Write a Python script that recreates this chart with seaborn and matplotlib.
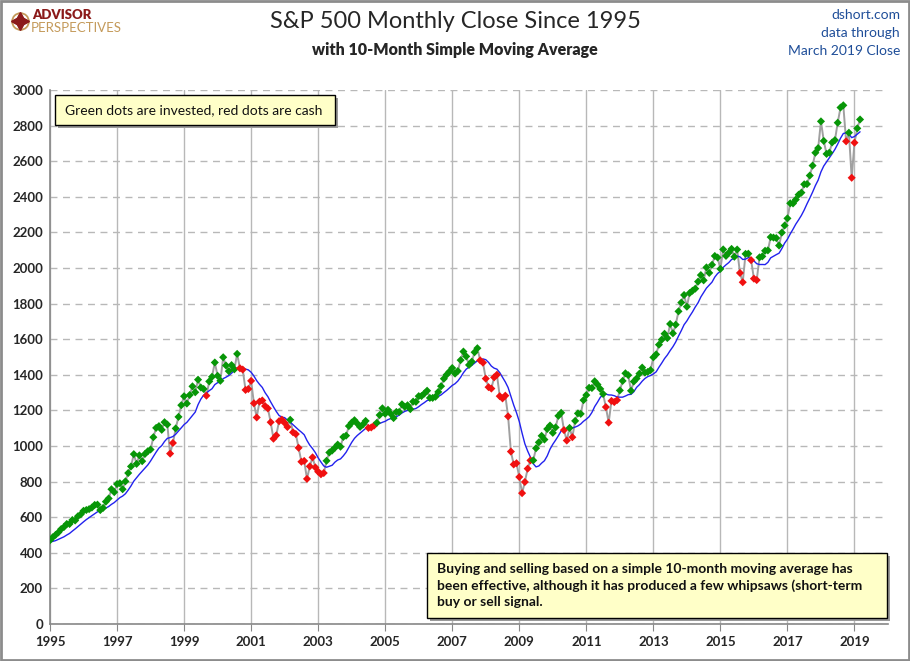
import matplotlib.pyplot as plt
import matplotlib.patches as mpatches
from matplotlib.lines import Line2D
import seaborn as sns
import pandas as pd
import numpy as np

# --------------------------- Data -------------------------------
# monthly closes, Mar 1994 - Mar 2019 (1994 only used to start the 10-month average)
close_1994 = [445.77, 450.91, 456.50, 444.27, 458.26, 475.49, 462.69, 472.35, 453.69, 459.27]
close_1995 = [470.42, 487.39, 500.71, 514.71, 533.40, 544.75, 562.06, 561.88, 584.41, 581.50, 605.37, 615.93]
close_1996 = [636.02, 640.43, 645.50, 654.17, 669.12, 670.63, 639.95, 651.99, 687.31, 705.27, 757.02, 740.74]
close_1997 = [786.16, 790.82, 757.12, 801.34, 848.28, 885.14, 954.29, 899.47, 947.28, 914.62, 955.40, 970.43]
close_1998 = [980.28, 1049.34, 1101.75, 1111.75, 1090.82, 1133.84, 1120.67, 957.28, 1017.01, 1098.67, 1163.63, 1229.23]
close_1999 = [1279.64, 1238.33, 1286.37, 1335.18, 1301.84, 1372.71, 1328.72, 1320.41, 1282.71, 1362.93, 1388.91, 1469.25]
close_2000 = [1394.46, 1366.42, 1498.58, 1452.43, 1420.60, 1454.60, 1430.83, 1517.68, 1436.51, 1429.40, 1314.95, 1320.28]
close_2001 = [1366.01, 1239.94, 1160.33, 1249.46, 1255.82, 1224.38, 1211.23, 1133.58, 1040.94, 1059.78, 1139.45, 1148.08]
close_2002 = [1130.20, 1106.73, 1147.39, 1076.92, 1067.14, 989.82, 911.62, 916.07, 815.28, 885.76, 936.31, 879.82]
close_2003 = [855.70, 841.15, 848.18, 916.92, 963.59, 974.50, 990.31, 1008.01, 995.97, 1050.71, 1058.20, 1111.92]
close_2004 = [1131.13, 1144.94, 1126.21, 1107.30, 1120.68, 1140.84, 1101.72, 1104.24, 1114.58, 1130.20, 1173.82, 1211.92]
close_2005 = [1181.27, 1203.60, 1180.59, 1156.85, 1191.50, 1191.33, 1234.18, 1220.33, 1228.81, 1207.01, 1249.48, 1248.29]
close_2006 = [1280.08, 1280.66, 1294.83, 1310.61, 1270.09, 1270.20, 1276.66, 1303.82, 1335.85, 1377.94, 1400.63, 1418.30]
close_2007 = [1438.24, 1406.82, 1420.86, 1482.37, 1530.62, 1503.35, 1455.27, 1473.99, 1526.75, 1549.38, 1481.14, 1468.36]
close_2008 = [1378.55, 1330.63, 1322.70, 1385.59, 1400.38, 1280.00, 1267.38, 1282.83, 1166.36, 968.75, 896.24, 903.25]
close_2009 = [825.88, 735.09, 797.87, 872.81, 919.14, 919.32, 987.48, 1020.62, 1057.08, 1036.19, 1095.63, 1115.10]
close_2010 = [1073.87, 1104.49, 1169.43, 1186.69, 1089.41, 1030.71, 1101.60, 1049.33, 1141.20, 1183.26, 1180.55, 1257.64]
close_2011 = [1286.12, 1327.22, 1325.83, 1363.61, 1345.20, 1320.64, 1292.28, 1218.89, 1131.42, 1253.30, 1246.96, 1257.60]
close_2012 = [1312.41, 1365.68, 1408.47, 1397.91, 1310.33, 1362.16, 1379.32, 1406.58, 1440.67, 1412.16, 1416.18, 1426.19]
close_2013 = [1498.11, 1514.68, 1569.19, 1597.57, 1630.74, 1606.28, 1685.73, 1632.97, 1681.55, 1756.54, 1805.81, 1848.36]
close_2014 = [1782.59, 1859.45, 1872.34, 1883.95, 1923.57, 1960.23, 1930.67, 2003.37, 1972.29, 2018.05, 2067.56, 2058.90]
close_2015 = [1994.99, 2104.50, 2067.89, 2085.51, 2107.39, 2063.11, 2103.84, 1972.18, 1920.03, 2079.36, 2080.41, 2043.94]
close_2016 = [1940.24, 1932.23, 2059.74, 2065.30, 2096.95, 2098.86, 2173.60, 2170.95, 2168.27, 2126.15, 2198.81, 2238.83]
close_2017 = [2278.87, 2363.64, 2362.72, 2384.20, 2411.80, 2423.41, 2470.30, 2471.65, 2519.36, 2575.26, 2647.58, 2673.61]
close_2018 = [2823.81, 2713.83, 2640.87, 2648.05, 2705.27, 2718.37, 2816.29, 2901.52, 2913.98, 2711.74, 2760.17, 2506.85]
close_2019 = [2704.10, 2784.49, 2834.40]

year_ticks = [1995, 1997, 1999, 2001, 2003, 2005, 2007, 2009, 2011, 2013, 2015, 2017, 2019]
value_ticks = [0, 200, 400, 600, 800, 1000, 1200, 1400, 1600, 1800, 2000, 2200, 2400, 2600, 2800, 3000]

closes = (close_1994 + close_1995 + close_1996 + close_1997 + close_1998 + close_1999 + close_2000
          + close_2001 + close_2002 + close_2003 + close_2004 + close_2005 + close_2006 + close_2007
          + close_2008 + close_2009 + close_2010 + close_2011 + close_2012 + close_2013 + close_2014
          + close_2015 + close_2016 + close_2017 + close_2018 + close_2019)

dates = pd.date_range("1994-03-01", periods=len(closes), freq="MS")
df = pd.DataFrame({"date": dates, "close": closes})
df["sma"] = df["close"].rolling(10).mean()
df = df[df["date"] >= "1995-01-01"].copy()
df["x"] = df["date"].dt.year + (df["date"].dt.month - 1) / 12
df["signal"] = np.where(df["close"] > df["sma"], "invested", "cash")

# --------------------------- Plot -------------------------------
sns.set_style("white")
plt.rcParams["font.family"] = ["Lato", "DejaVu Sans"]

fig = plt.figure(figsize=(9.1, 6.61), dpi=100)
ax = fig.add_axes([50 / 910, 1 - 624 / 661, 838 / 910, 534 / 661])

sns.lineplot(data=df, x="x", y="close", color="#a0a0a0", lw=1.4, ax=ax, zorder=2)
sns.lineplot(data=df, x="x", y="sma", color="#2222ee", lw=1.0, ax=ax, zorder=3)
sns.scatterplot(data=df, x="x", y="close", hue="signal",
                palette={"invested": "#079607", "cash": "#f01010"},
                marker="D", s=17, edgecolor="none", legend=False, ax=ax, zorder=4)

ax.set_xlim(1995, 2020)
ax.set_ylim(0, 3000)
ax.set_xticks(year_ticks)
ax.set_yticks(value_ticks)
ax.set_xticklabels([str(y) for y in year_ticks], fontweight="bold", fontsize=9.5)
ax.set_yticklabels([str(v) for v in value_ticks], fontweight="bold", fontsize=9.5)
ax.set_xlabel("")
ax.set_ylabel("")
ax.xaxis.grid(True, color="#b8b8b8", lw=1.0)
ax.yaxis.grid(True, color="#b8b8b8", lw=1.0, ls=(0, (5, 4)))
ax.tick_params(axis="x", direction="out", length=5, color="#888888", bottom=True, pad=4)
ax.tick_params(axis="y", length=0, pad=5)
for side in ["top", "right"]:
    ax.spines[side].set_visible(False)
for side in ["left", "bottom"]:
    ax.spines[side].set_color("#888888")
    ax.spines[side].set_linewidth(1.2)

# titles
fig.text(0.5, 1 - 22 / 661, "S&P 500 Monthly Close Since 1995", ha="center", va="center", fontsize=17)
fig.text(0.5, 1 - 50 / 661, "with 10-Month Simple Moving Average", ha="center", va="center",
         fontsize=11.5, fontweight="heavy")
for i, line in enumerate(["dshort.com", "data through", "March 2019 Close"]):
    fig.text(900 / 910, 1 - (15 + 18 * i) / 661, line, ha="right", va="center", fontsize=10,
             color="#1f4e99")

# logo
fig.add_artist(Line2D([20 / 910], [1 - 21 / 661], marker="o", ms=12, mfc="none", mec="#c49a5a",
                      mew=1.3, transform=fig.transFigure))
fig.add_artist(Line2D([20 / 910], [1 - 21 / 661], marker=(4, 1, 0), ms=13, color="#8b1a1a",
                      transform=fig.transFigure))
fig.text(32 / 910, 1 - 15 / 661, "ADVISOR", ha="left", va="center", fontsize=9.5,
         fontweight="heavy", color="#8b1a1a")
fig.text(31 / 910, 1 - 28 / 661, "PERSPECTIVES", ha="left", va="center", fontsize=9.5,
         color="#c49a5a")


def note_box(x0, y0, x1, y1, text, tx, size, weight):
    w = (x1 - x0) / 910
    h = (y1 - y0) / 661
    left = x0 / 910
    bottom = 1 - y1 / 661
    shadow = mpatches.Rectangle((left + 3 / 910, bottom - 3 / 661), w, h, transform=fig.transFigure,
                                facecolor="#9a9a9a", edgecolor="none", zorder=10)
    box = mpatches.Rectangle((left, bottom), w, h, transform=fig.transFigure,
                             facecolor="#ffffc8", edgecolor="black", lw=1.0, zorder=11)
    fig.patches.extend([shadow, box])
    fig.text(tx / 910, bottom + h / 2, text, ha="left", va="center", fontsize=size,
             fontweight=weight, color="#111111", zorder=12, linespacing=1.45)


note_box(55, 95, 335, 125, "Green dots are invested, red dots are cash", 65, 10, "normal")
note_box(427, 553, 887, 618,
         "Buying and selling based on a simple 10-month moving average has\n"
         "been effective, although it has produced a few whipsaws (short-term\n"
         "buy or sell signal.", 437, 10, "bold")

# outer border
fig.patches.append(mpatches.Rectangle((0.001, 0.001), 0.998, 0.998, transform=fig.transFigure,
                                      facecolor="none", edgecolor="#8c8c8c", lw=2))

fig.savefig("out.png", dpi=100)
